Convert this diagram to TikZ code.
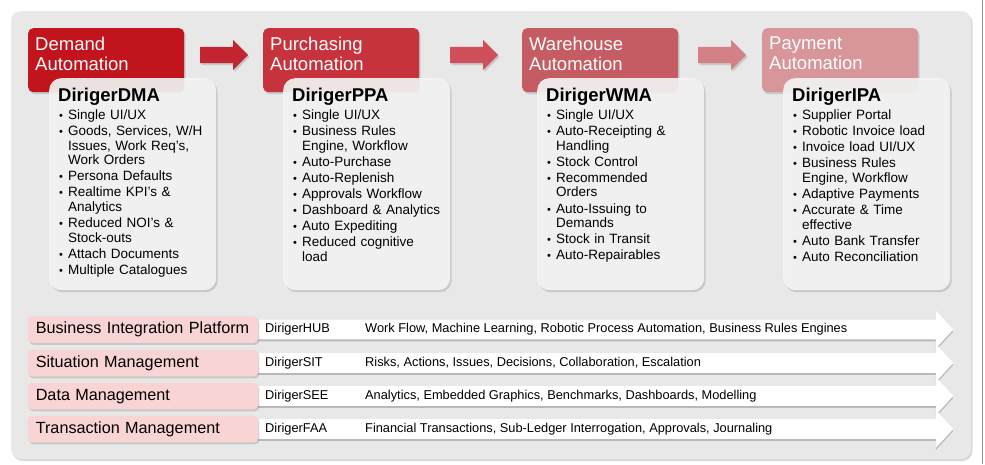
\documentclass[tikz,border=0pt]{standalone}
\usepackage{fontspec}
\setmainfont{Liberation Sans}
\usetikzlibrary{shapes.arrows,shadows}
\definecolor{panelgray}{HTML}{E8E8E8}
\definecolor{cardwhite}{HTML}{F5F5F5}
\definecolor{redA}{HTML}{C1141D}
\definecolor{redB}{HTML}{C6333C}
\definecolor{redC}{HTML}{C55C64}
\definecolor{redD}{HTML}{D8969A}
\definecolor{arrA}{HTML}{C32631}
\definecolor{arrB}{HTML}{CF505A}
\definecolor{arrC}{HTML}{D38087}
\definecolor{labpink}{HTML}{F9D4D4}
\newcommand{\li}[1]{\par\vspace{1.6pt}\hangindent=10pt\hangafter=1\noindent\makebox[10pt][l]{\hspace{1pt}{\fontsize{11}{11}\selectfont\textbullet}}#1}
\newcommand{\ctitle}[1]{{\fontsize{18.5}{20}\selectfont\bfseries #1\par}\vspace{1.9pt}}

\begin{document}
\begin{tikzpicture}[x=1pt, y=-1pt,
        softshadow/.style={drop shadow={opacity=.3, shadow xshift=1.5pt, shadow yshift=-2pt}},
        panel/.style={rectangle, rounded corners=10pt, fill=panelgray, minimum width=960pt, minimum height=448pt, inner sep=0pt, softshadow},
        header/.style={rectangle, rounded corners=5pt, minimum width=156pt, minimum height=64pt, inner sep=0pt, anchor=north west, softshadow},
        headtext/.style={text=white, align=left, inner sep=0pt, anchor=north west, font=\fontsize{18.5}{19.5}\selectfont},
        card/.style={rectangle, rounded corners=12pt, fill=cardwhite, fill opacity=.9, minimum width=167pt, minimum height=212pt, inner sep=0pt, anchor=north west, softshadow},
        cardtext/.style={text width=155pt, align=left, inner sep=0pt, anchor=north west, font=\fontsize{13.5}{14.5}\selectfont},
        blockarrow/.style={single arrow, single arrow head extend=7pt, minimum height=48pt, minimum width=30pt, inner xsep=0pt, inner ysep=8pt, anchor=tail, softshadow},
        band/.style={single arrow, fill=white, single arrow head extend=9pt, single arrow tip angle=95, minimum height=695pt, minimum width=37.5pt, inner xsep=0pt, inner ysep=9.75pt, anchor=tail, drop shadow={opacity=.45, shadow xshift=0pt, shadow yshift=-2pt}},
        rowlabel/.style={rectangle, rounded corners=4pt, fill=labpink, text width=214pt, align=left, inner xsep=8pt, inner ysep=0pt, minimum height=26.5pt, text height=11.5pt, text depth=3.5pt, anchor=east, font=\fontsize{16.2}{18}\selectfont, softshadow},
        bandtext/.style={anchor=west, inner sep=0pt, font=\fontsize{12.8}{14}\selectfont}]
    \useasboundingbox (0,0) rectangle (985,464);

    % Background.
    \node[panel] (panel) at (491,235) {};
    \draw[black!45, line width=1.5pt] (982.5,0) -- (982.5,464);

    % Headers.
    \foreach \x/\cl/\name [count=\i] in {28/redA/Demand, 263/redB/Purchasing, 522/redC/Warehouse, 762/redD/Payment}
    {
        \node[header, fill=\cl] (head\i) at (\x,28) {};
        \node[headtext] (headtxt\i) at (\x+7,37) {\name\\Automation};
    }

    % Arrows.
    \foreach \x/\cl [count=\i] in {200/arrA, 450/arrB, 698/arrC}
    {
        \node[blockarrow, fill=\cl] (step\i) at (\x,55) {};
    }

    % Cards.
    \foreach \x [count=\i] in {49,283,537,783}
    {
        \node[card] (card\i) at (\x,78) {};
    }
    \node[cardtext] (list1) at (58,88) {\ctitle{DirigerDMA}\li{Single UI/UX}\li{Goods, Services, W/H\newline Issues, Work Req's,\newline Work Orders}\li{Persona Defaults}\li{Realtime KPI's \&\newline Analytics}\li{Reduced NOI's \&\newline Stock-outs}\li{Attach Documents}\li{Multiple Catalogues}\par};
    \node[cardtext] (list2) at (292,88) {\ctitle{DirigerPPA}\li{Single UI/UX}\li{Business Rules\newline Engine, Workflow}\li{Auto-Purchase}\li{Auto-Replenish}\li{Approvals Workflow}\li{Dashboard \& Analytics}\li{Auto Expediting}\li{Reduced cognitive\newline load}\par};
    \node[cardtext] (list3) at (546,88) {\ctitle{DirigerWMA}\li{Single UI/UX}\li{Auto-Receipting \&\newline Handling}\li{Stock Control}\li{Recommended\newline Orders}\li{Auto-Issuing to\newline Demands}\li{Stock in Transit}\li{Auto-Repairables}\par};
    \node[cardtext] (list4) at (792,88) {\ctitle{DirigerIPA}\li{Supplier Portal}\li{Robotic Invoice load}\li{Invoice load UI/UX}\li{Business Rules\newline Engine, Workflow}\li{Adaptive Payments}\li{Accurate \& Time\newline effective}\li{Auto Bank Transfer}\li{Auto Reconciliation}\par};

    % Platform rows.
    \foreach \y/\lab/\prod/\desc [count=\i] in {329.5/Business Integration Platform/DirigerHUB/{Work Flow, Machine Learning, Robotic Process Automation, Business Rules Engines}, 363/Situation Management/DirigerSIT/{Risks, Actions, Issues, Decisions, Collaboration, Escalation}, 396/Data Management/DirigerSEE/{Analytics, Embedded Graphics, Benchmarks, Dashboards, Modelling}, 429/Transaction Management/DirigerFAA/{Financial Transactions, Sub-Ledger Interrogation, Approvals, Journaling}}
    {
        \node[band] (band\i) at (258,\y) {};
        \node[rowlabel] (lab\i) at (258,\y) {\lab};
        \node[bandtext] (prod\i) at (265,\y) {\prod};
        \node[bandtext] (desc\i) at (365,\y) {\desc};
    }
\end{tikzpicture}
\end{document}
